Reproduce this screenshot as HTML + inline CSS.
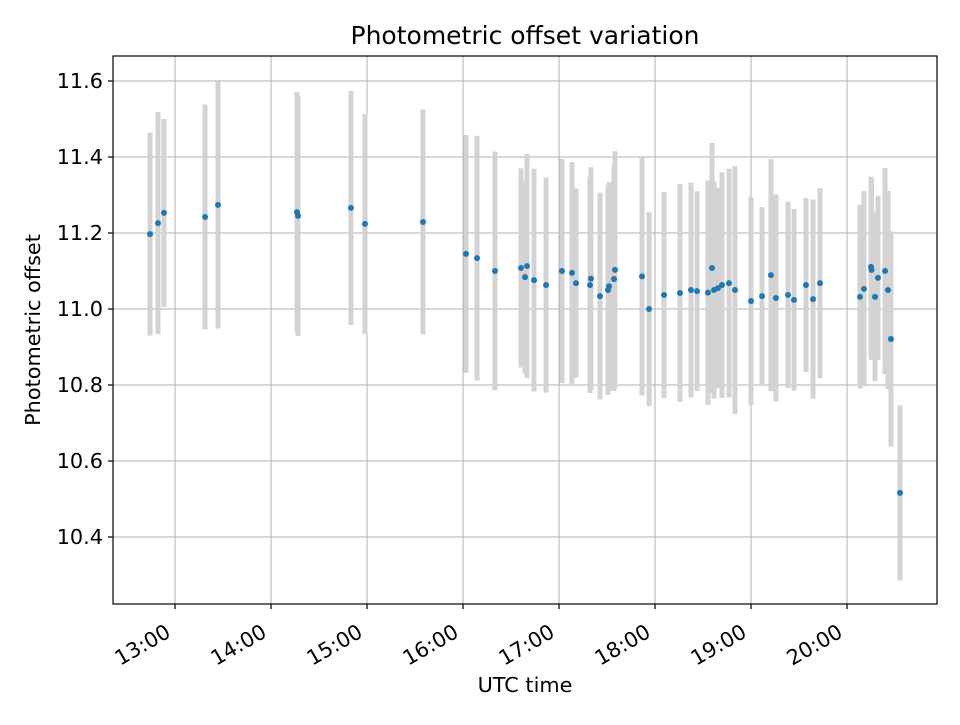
<!DOCTYPE html>
<html><head><meta charset="utf-8"><style>
body{margin:0;background:#fff}
text{font-family:"DejaVu Sans","Liberation Sans",sans-serif;fill:#000}
</style></head><body>
<svg id="chart" width="960" height="720" xmlns="http://www.w3.org/2000/svg">
<rect width="960" height="720" fill="#fff"/>
<g id="grid"></g><g id="bars"></g><g id="pts"></g><g id="axes"></g>
<text x="525" y="44" text-anchor="middle" style="font-size:25px">Photometric offset variation</text>
<text x="525" y="692" text-anchor="middle" style="font-size:20.8px">UTC time</text>
<text transform="translate(40,330) rotate(-90)" text-anchor="middle" style="font-size:20.8px">Photometric offset</text>
</svg>
<script>
const times=[12.740,12.823,12.885,13.313,13.448,14.271,14.281,14.833,14.979,15.583,16.031,16.146,16.333,16.604,16.646,16.667,16.740,16.865,17.031,17.135,17.177,17.323,17.333,17.427,17.510,17.521,17.573,17.583,17.865,17.938,18.094,18.260,18.375,18.438,18.552,18.594,18.615,18.656,18.698,18.771,18.833,19.000,19.115,19.208,19.260,19.385,19.448,19.573,19.646,19.719,20.135,20.177,20.250,20.255,20.292,20.323,20.396,20.427,20.458,20.552];
const offsets=[11.197,11.226,11.253,11.242,11.274,11.255,11.245,11.266,11.224,11.229,11.145,11.134,11.100,11.108,11.084,11.113,11.076,11.063,11.100,11.095,11.068,11.063,11.080,11.034,11.050,11.060,11.079,11.103,11.086,11.000,11.037,11.042,11.050,11.047,11.043,11.108,11.050,11.055,11.063,11.068,11.050,11.021,11.034,11.089,11.029,11.037,11.024,11.063,11.026,11.068,11.032,11.053,11.111,11.103,11.032,11.082,11.100,11.050,10.921,10.516];
const errors=[0.267,0.292,0.247,0.296,0.325,0.316,0.316,0.308,0.289,0.296,0.313,0.322,0.314,0.262,0.253,0.295,0.293,0.283,0.295,0.292,0.249,0.284,0.293,0.272,0.276,0.274,0.295,0.312,0.314,0.255,0.271,0.287,0.283,0.263,0.295,0.329,0.286,0.264,0.297,0.301,0.326,0.274,0.234,0.305,0.272,0.245,0.239,0.229,0.262,0.250,0.242,0.257,0.237,0.237,0.222,0.216,0.271,0.261,0.283,0.230];
const xTicks=[13,14,15,16,17,18,19,20];
const xTickLabels=["13:00","14:00","15:00","16:00","17:00","18:00","19:00","20:00"];
const yTicks=[10.4,10.6,10.8,11.0,11.2,11.4,11.6];
const yTickLabels=["10.4","10.6","10.8","11.0","11.2","11.4","11.6"];
const L=113,R=937,T=56,B=604;
const xs=t=>175+(t-13)*96;
const ys=v=>81+(11.6-v)*380;
const NS="http://www.w3.org/2000/svg";
function mk(tag,attrs,parent){const e=document.createElementNS(NS,tag);for(const k in attrs)e.setAttribute(k,attrs[k]);parent.appendChild(e);return e;}
const grid=document.getElementById('grid'),bars=document.getElementById('bars'),pts=document.getElementById('pts'),axes=document.getElementById('axes');
xTicks.forEach((t,i)=>{const x=xs(t);
 const g=mk('line',{x1:x,x2:x,y1:T,y2:B,stroke:'#b0b0b0','stroke-width':1},grid);
 
 
 const tk=mk('line',{x1:x,x2:x,y1:B,y2:B+5,stroke:'#000','stroke-width':1.2},axes);
 
 
 const tx=mk('text',{transform:`translate(${x-3},${B+32}) rotate(-30)`,'text-anchor':'end',style:'font-size:20.8px'},axes);
 tx.textContent=xTickLabels[i];
 
 
});
yTicks.forEach((v,i)=>{const y=ys(v);
 const g=mk('line',{x1:L,x2:R,y1:y,y2:y,stroke:'#b0b0b0','stroke-width':1},grid);
 
 
 const tk=mk('line',{x1:L-5,x2:L,y1:y,y2:y,stroke:'#000','stroke-width':1.2},axes);
 
 
 const tx=mk('text',{x:L-10,y:y+7,'text-anchor':'end',style:'font-size:20.8px'},axes);
 tx.textContent=yTickLabels[i];
 
 
});
times.forEach((t,i)=>{const x=xs(t);
 const b=mk('line',{x1:x,x2:x,y1:ys(offsets[i]+errors[i]),y2:ys(offsets[i]-errors[i]),stroke:'#d3d3d3','stroke-width':5},bars);
 
 
 const c=mk('circle',{cx:x,cy:ys(offsets[i]),r:3,fill:'#1f77b4'},pts);
 
 
});
const f=mk('rect',{x:L,y:T,width:R-L,height:B-T,fill:'none',stroke:'#000','stroke-width':1.2},axes);


</script>
</body></html>
